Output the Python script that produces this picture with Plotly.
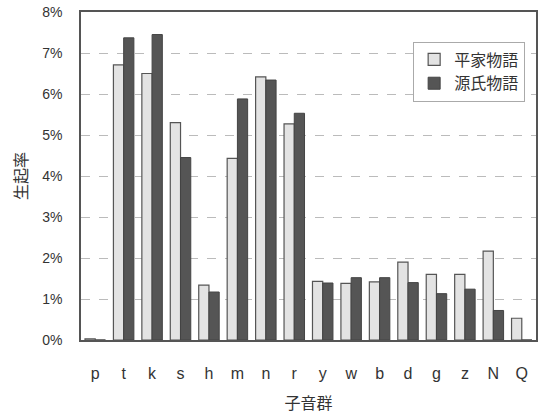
import plotly.graph_objects as go

categories = ["p", "t", "k", "s", "h", "m", "n", "r", "y", "w", "b", "d", "g", "z", "N", "Q"]
heike = [0.03, 6.71, 6.50, 5.30, 1.34, 4.43, 6.42, 5.27, 1.43, 1.38, 1.42, 1.90, 1.60, 1.60, 2.17, 0.53]
genji = [0.0, 7.37, 7.45, 4.45, 1.17, 5.88, 6.34, 5.53, 1.39, 1.52, 1.52, 1.40, 1.13, 1.24, 0.72, 0.0]
series_names = ["平家物語", "源氏物語"]
y_ticks = [0, 1, 2, 3, 4, 5, 6, 7, 8]
y_tick_labels = ["0%", "1%", "2%", "3%", "4%", "5%", "6%", "7%", "8%"]

font_family = "Liberation Sans, Arial, Noto Sans CJK JP, sans-serif"

fig = go.Figure()
fig.add_trace(go.Bar(
    x=categories, y=heike, name=series_names[0],
    marker=dict(color="#e3e3e3", line=dict(color="#555555", width=1.2)),
))
fig.add_trace(go.Bar(
    x=categories, y=genji, name=series_names[1],
    marker=dict(color="#555555", line=dict(color="#444444", width=1)),
))

fig.update_layout(
    width=541, height=418,
    margin=dict(l=81, r=5, t=12, b=78),
    paper_bgcolor="white", plot_bgcolor="white",
    barmode="group", bargap=0.28, bargroupgap=0.0,
    font=dict(family=font_family, color="#333333", size=14),
    showlegend=True,
    legend=dict(
        x=0.73, y=0.91, xanchor="left", yanchor="top",
        bgcolor="white", bordercolor="#aaaaaa", borderwidth=1,
        font=dict(size=16, color="#333333", family="Noto Sans CJK JP, sans-serif"),
        itemwidth=30,
    ),
)
fig.update_xaxes(
    automargin=False,
    showline=True, linecolor="#555555", linewidth=1.5, mirror=True,
    ticks="", ticklabelstandoff=18,
    tickfont=dict(size=16, color="#333333"),
    title=dict(text="子音群", standoff=17,
               font=dict(size=16, color="#333333", family="Noto Sans CJK JP, sans-serif")),
)
fig.update_yaxes(
    automargin=False,
    range=[0, 8], tickmode="array", tickvals=y_ticks, ticktext=y_tick_labels,
    showline=True, linecolor="#555555", linewidth=1.5, mirror=True,
    showgrid=True, gridcolor="#bbbbbb", griddash="dash", gridwidth=1,
    ticks="", ticklabelstandoff=14,
    tickfont=dict(size=14, color="#333333"),
    zeroline=False,
    title=dict(text="生起率", standoff=11,
               font=dict(size=16, color="#333333", family="Noto Sans CJK JP, sans-serif")),
)

# remove the browser's default 8px body margin so the figure fills the window
fig.write_html("out.html", config={"displayModeBar": False},
               post_script="document.body.style.margin='0px';")
